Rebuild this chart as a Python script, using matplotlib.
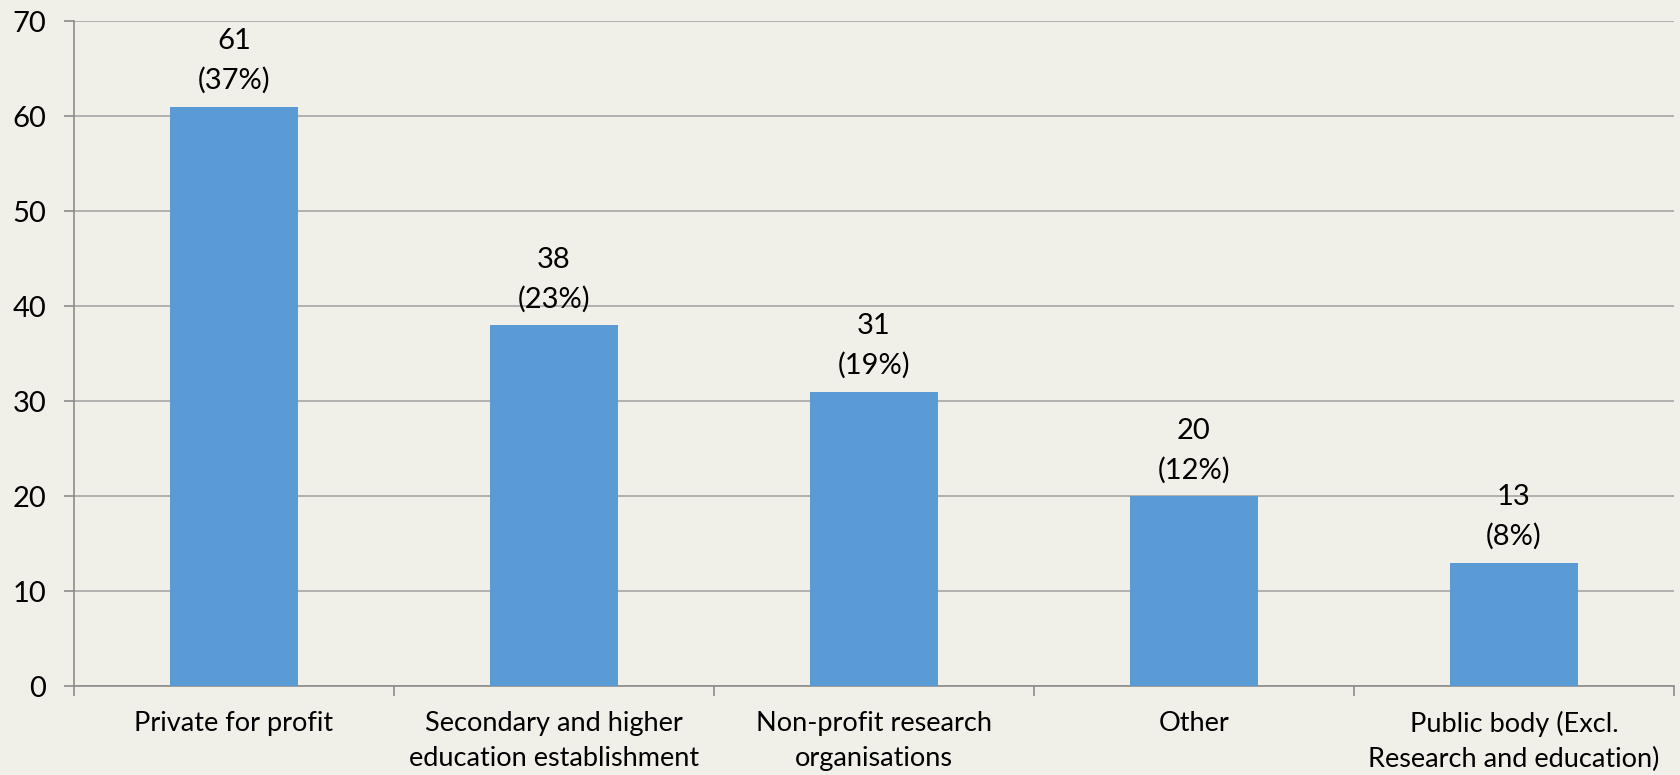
import matplotlib
matplotlib.use("Agg")
import matplotlib.pyplot as plt

categories = [
    "Private for profit",
    "Secondary and higher\neducation establishment",
    "Non-profit research\norganisations",
    "Other",
    "Public body (Excl.\nResearch and education)",
]
counts = [61, 38, 31, 20, 13]
shares = [37, 23, 19, 12, 8]
y_ticks = [0, 10, 20, 30, 40, 50, 60, 70]

bg = "#F0EFE8"
bar_color = "#5B9BD5"
grid_color = "#A6A6A6"
axis_color = "#8C8C8C"

plt.rcParams["font.family"] = ["Lato", "DejaVu Sans"]

fig = plt.figure(figsize=(16.81, 7.75), dpi=100, facecolor=bg)
ax = fig.add_axes([0.044, 0.1148, 0.9518, 0.8581], facecolor=bg)

x = list(range(len(categories)))
ax.bar(x, counts, width=0.4, color=bar_color, zorder=3)

for xi, c, s in zip(x, counts, shares):
    ax.annotate(f"{c}\n({s}%)", xy=(xi, c), xytext=(0, 9), textcoords="offset points",
                ha="center", va="bottom", fontsize=21, linespacing=1.6, color="#000000",
                zorder=4)

ax.set_xlim(-0.5, len(categories) - 0.5)
ax.set_ylim(0, 70)
ax.set_yticks(y_ticks)
ax.set_yticklabels([str(t) for t in y_ticks], fontsize=21)
ax.set_xticks(x)
ax.set_xticklabels(categories, fontsize=19.5, linespacing=1.5)
ax.set_xticks([i - 0.5 for i in range(len(categories) + 1)], minor=True)

ax.yaxis.grid(True, color=grid_color, linewidth=1.2, zorder=0)
ax.xaxis.grid(False)

ax.tick_params(axis="x", which="major", length=0, pad=18)
ax.tick_params(axis="x", which="minor", length=7, width=1.2, color=axis_color, direction="out")
ax.tick_params(axis="y", length=7, width=1.2, color=axis_color, direction="out", pad=13)

for side in ("top", "right"):
    ax.spines[side].set_visible(False)
for side in ("left", "bottom"):
    ax.spines[side].set_color(axis_color)
    ax.spines[side].set_linewidth(1.2)

fig.savefig("out.png", dpi=100, facecolor=bg)
